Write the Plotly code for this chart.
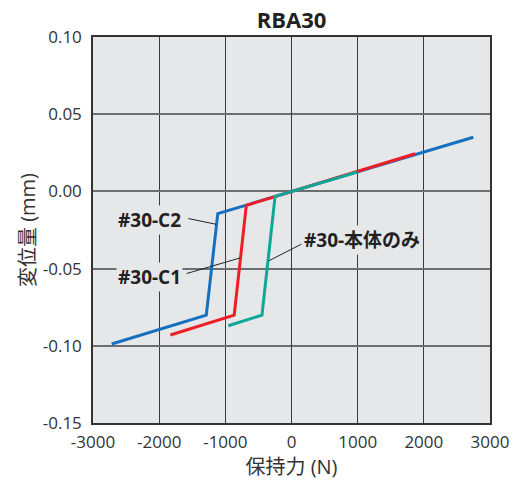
import plotly.graph_objects as go

# Data (保持力 N, 変位量 mm)
c2_x = [-2718, -1288, -1114, 2748]
c2_y = [-0.0988, -0.0801, -0.0144, 0.0351]
c1_x = [-1831, -866, -683, 1867]
c1_y = [-0.0930, -0.0801, -0.0090, 0.0244]
body_x = [-955, -446, -248, 991]
body_y = [-0.0870, -0.0801, -0.0032, 0.0125]

x_ticks = [-3000, -2000, -1000, 0, 1000, 2000, 3000]
x_tick_text = ["-3000", "-2000", "-1000", "0", "1000", "2000", "3000"]
y_ticks = [0.10, 0.05, 0.00, -0.05, -0.10, -0.15]
y_tick_text = ["0.10", "0.05", "0.00", "-0.05", "-0.10", "-0.15"]

labels = ["#30-C2", "#30-C1", "#30-本体のみ"]
label_pos = [(-2146, -0.0187), (-2146, -0.0554), (1062, -0.0317)]
leader_lines = [((-1559, -0.0176), (-1139, -0.0213)),
                ((-1585, -0.0532), (-777, -0.0431)),
                ((149, -0.0342), (-346, -0.0450))]

FONT = "Open Sans, Noto Sans CJK JP, sans-serif"

fig = go.Figure()
for xs, ys, col in [(c2_x, c2_y, "#1670C0"), (c1_x, c1_y, "#EE1D26"), (body_x, body_y, "#0EA899")]:
    fig.add_trace(go.Scatter(x=xs, y=ys, mode="lines",
                             line=dict(color=col, width=3), showlegend=False,
                             hoverinfo="skip"))

for (p0, p1) in leader_lines:
    fig.add_shape(type="line", x0=p0[0], y0=p0[1], x1=p1[0], y1=p1[1],
                  line=dict(color="#222222", width=1), layer="above")

for txt, (lx, ly) in zip(labels, label_pos):
    fig.add_annotation(x=lx, y=ly, text=f"<b>{txt}</b>", showarrow=False,
                       font=dict(family=FONT, size=19, color="#222222"),
                       bgcolor="#E6E7E9", borderpad=1)

common = dict(showline=True, linecolor="#333333", linewidth=1.5, mirror=True,
              ticks="", tickfont=dict(family=FONT, size=17, color="#333333"))

fig.update_layout(
    width=521, height=484,
    margin=dict(l=93, r=24, t=37, b=61),
    paper_bgcolor="white", plot_bgcolor="#E6E7E9",
    title=dict(text="<b>RBA30</b>", xref="paper", x=0.5, xanchor="center",
               yref="container", y=1 - 20 / 484, yanchor="middle",
               font=dict(family=FONT, size=22, color="#222222")),
    xaxis=dict(range=[-3000, 3000], tickvals=x_ticks, ticktext=x_tick_text,
               ticklabelstandoff=3,
               showgrid=True, gridcolor="#3a3a3a", gridwidth=1,
               zeroline=True, zerolinecolor="#3a3a3a", zerolinewidth=1,
               title=dict(text="保持力 (N)", font=dict(family=FONT, size=20, color="#333333"),
                          standoff=2),
               **common),
    yaxis=dict(range=[-0.15, 0.10], tickvals=y_ticks, ticktext=y_tick_text,
               ticklabelstandoff=6,
               showgrid=True, gridcolor="#6e6e6e", gridwidth=1.5,
               zeroline=True, zerolinecolor="#6e6e6e", zerolinewidth=1.5,
               title=dict(text="変位量 (mm)", font=dict(family=FONT, size=20, color="#333333"),
                          standoff=2),
               **common),
)

fig.write_html("out.html", config={"displayModeBar": False},
               post_script="document.body.style.margin='0';")
